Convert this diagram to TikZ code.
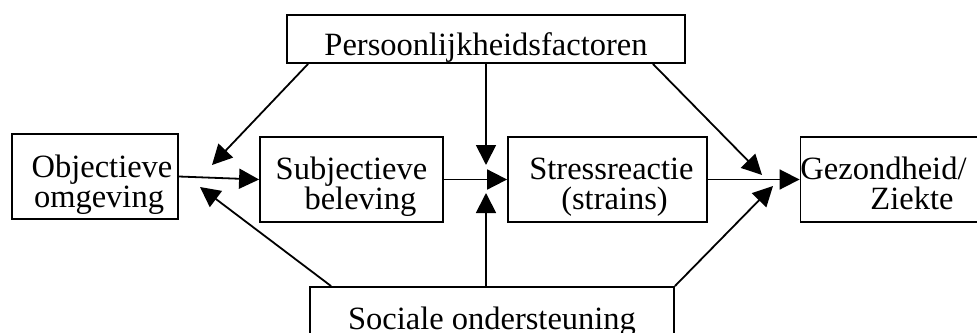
\documentclass[tikz,border=0pt]{standalone}
\usepackage{fontspec}
\setmainfont{Liberation Serif}
\usetikzlibrary{shapes,arrows.meta}
\tikzstyle{block} = [rectangle, draw, line width=1.8pt, inner sep=0pt, align=center, font=\fontsize{32.5}{30}\selectfont]
\tikzstyle{line} = [draw, line width=1.8pt, -{Triangle[length=20pt,width=20pt]}]

\begin{document}
\begin{tikzpicture}[x=1pt,y=-1pt]
\useasboundingbox (0,0) rectangle (977,332);
\clip (0,0) rectangle (977,332);
\node [block, minimum width=398pt, text height=40pt, text depth=8pt] (persoon) at (486,39) {Persoonlijkheidsfactoren};
\node [block, minimum width=166pt, text height=73pt, text depth=12pt] (objectief) at (95,176.5) {\hspace*{14pt}Objectieve\\\hspace*{8pt}omgeving};
\node [block, minimum width=183pt, text height=72pt, text depth=13pt] (subjectief) at (351.5,179.5) {Subjectieve\\\hspace*{18pt}beleving};
\node [block, minimum width=199pt, text height=72pt, text depth=13pt] (stress) at (607.5,179.5) {\hspace*{8pt}Stressreactie\\\hspace*{14pt}(strains)};
\node [block, align=left, minimum width=171pt, text height=72pt, text depth=13pt] (gezond) at (890.5,179.5) {Gezondheid/\hspace*{14pt}\\\hspace*{70pt}Ziekte};
\node [block, minimum width=364pt, text height=42pt, text depth=8pt] (sociaal) at (492,312) {Sociale ondersteuning};
\coordinate (p-obj) at (212,165);
\coordinate (s-obj) at (200,187);
\coordinate (p-stress) at (486,165);
\coordinate (s-stress) at (486,193);
\coordinate (p-gezond) at (762,175);
\coordinate (s-gezond) at (773,186);
\path [line] ([xshift=22pt]persoon.south west) -- (p-obj);
\path [line] ([xshift=22pt]sociaal.north west) -- (s-obj);
\path [line] (objectief.east) -- (subjectief.west);
\path [line] (persoon.south) -- (p-stress);
\path [line] (sociaal.north -| s-stress) -- (s-stress);
\path [line] (subjectief) -- (stress);
\path [line] ([xshift=-33pt]persoon.south east) -- (p-gezond);
\path [line] (sociaal.north east) -- (s-gezond);
\path [line] (stress) -- (gezond);
\end{tikzpicture}
\end{document}
